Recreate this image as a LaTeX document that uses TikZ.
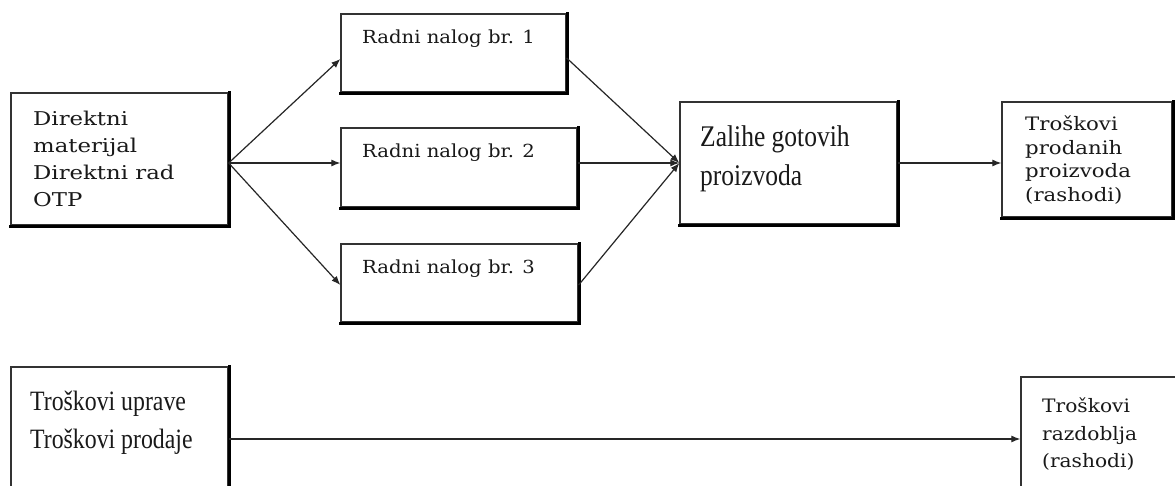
\documentclass[tikz,border=0pt]{standalone}
\usepackage{fontspec}
\setmainfont{DejaVu Serif}
\newfontfamily\wideserif[FakeStretch=1.2]{DejaVu Serif}
\newfontfamily\midserif[FakeStretch=1.09]{DejaVu Serif}
\newfontfamily\tppserif[FakeStretch=1.15]{DejaVu Serif}
\newfontfamily\narrowserif[FakeStretch=0.85]{Liberation Serif}
\usetikzlibrary{arrows.meta}

\begin{document}
\begin{tikzpicture}[x=1pt,y=-1pt,
  box/.style={draw=black!80, line width=1.3pt, inner sep=0pt, fill=white},
  shadowline/.style={line width=3.2pt, draw=black, line cap=rect},
  wtext/.style={anchor=north west, inner sep=0pt, align=left, text=black!90,
    font=\wideserif\fontsize{19}{27}\selectfont},
  rtext/.style={anchor=north west, inner sep=0pt, text=black!90,
    font=\midserif\fontsize{18}{22}\selectfont},
  ntext/.style={anchor=north west, inner sep=0pt, align=left, text=black!90},
  arr/.style={-{Latex[length=9pt,width=7pt]}, line width=1.2pt, draw=black!85}]

\useasboundingbox (0,0) rectangle (1175,486);
\fill[white] (0,0) rectangle (1175,486);
\clip (0,0) rectangle (1175,486);

% boxes
\node[box, minimum width=217pt, minimum height=132pt] (dm)  at (119.5,159) {};
\node[box, minimum width=225pt, minimum height=78pt]  (rn1) at (453.5,53) {};
\node[box, minimum width=236pt, minimum height=79pt]  (rn2) at (459,167.5) {};
\node[box, minimum width=237pt, minimum height=78pt]  (rn3) at (459.5,283) {};
\node[box, minimum width=217pt, minimum height=122pt] (zal) at (788.5,163) {};
\node[box, minimum width=170pt, minimum height=115pt] (tpp) at (1087,159.5) {};
\node[box, minimum width=217pt, minimum height=144pt] (tu)  at (119.5,439) {};
\node[box, minimum width=239pt, minimum height=124pt] (tr)  at (1140.5,439) {};

% shadows (thick right and bottom edges)
\foreach \n in {dm,rn1,rn2,rn3,zal,tpp,tu,tr}
  \draw[shadowline] ([xshift=0.8pt]\n.north east) -- ([xshift=0.8pt,yshift=-0.8pt]\n.south east) -- ([yshift=-0.8pt]\n.south west);

% texts
\node[wtext] (dmt) at (33,111) {Direktni\\materijal\\Direktni rad\\OTP};
\node[rtext] (rn1t) at (362,29.5) {Radni nalog br. 1};
\node[rtext] (rn2t) at (362,143.5) {Radni nalog br. 2};
\node[rtext] (rn3t) at (362,260) {Radni nalog br. 3};
\node[ntext, font=\narrowserif\fontsize{30}{39}\selectfont] (zalt) at (700,125.5) {Zalihe gotovih\\proizvoda};
\node[wtext, font=\tppserif\fontsize{18.5}{23.5}\selectfont] (tppt) at (1025,116) {Troškovi\\prodanih\\proizvoda\\(rashodi)};
\node[ntext, font=\narrowserif\fontsize{28}{38}\selectfont] (tut) at (30,391) {Troškovi uprave\\Troškovi prodaje};
\node[wtext, font=\midserif\fontsize{18.5}{27.5}\selectfont] (trt) at (1042,398) {Troškovi\\razdoblja\\(rashodi)};

% connectors
\draw[arr] ([yshift=-4pt]dm.east) -- ([yshift=-6pt]rn1.west);
\draw[arr] ([yshift=-4pt]dm.east) -- ([yshift=4.5pt]rn2.west);
\draw[arr] ([yshift=-4pt]dm.east) -- ([yshift=-2pt]rn3.west);
\draw[arr] ([yshift=-5pt]rn1.east) -- (zal.west);
\draw[arr] ([yshift=4.5pt]rn2.east) -- (zal.west);
\draw[arr] ([yshift=-2pt]rn3.east) -- (zal.west);
\draw[arr] (zal.east) -- ([yshift=-3.5pt]tpp.west);
\draw[arr] (tu.east) -- (tr.west);
\end{tikzpicture}
\end{document}
